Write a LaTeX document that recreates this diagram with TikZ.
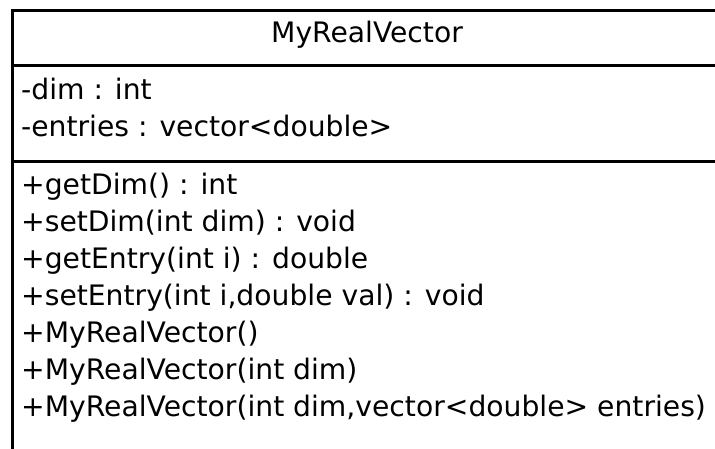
\documentclass[tikz,border=0pt]{standalone}
\usepackage{fontspec}
\setmainfont{DejaVu Sans}
\tikzset{
  classline/.style={line width=3pt},
  member/.style={anchor=base west,inner sep=0pt,font=\fontsize{28.2}{28.2}\selectfont},
  classname/.style={member,anchor=base}
}
\begin{document}
\begin{tikzpicture}[x=1pt,y=1pt]
\useasboundingbox (0,0) rectangle (715,448);
\clip (0,0) rectangle (715,448);
% class box, cut off on the right and at the bottom
\draw[classline] (12,-20) -- (12,437) -- (730,437);
\draw[classline] (12,382) -- (730,382);
\draw[classline] (12,286) -- (730,286);

\node[classname] (title) at (367,405) {MyRealVector};

% attributes
\node[member] (dim) at (21,348) {-dim : int};
\node[member] (entries) at (21,311) {-entries : vector<double>};

% methods
\node[member] (getdim) at (21,254) {+getDim() : int};
\node[member] (setdim) at (21,217) {+setDim(int dim) : void};
\node[member] (getentry) at (21,180) {+getEntry(int i) : double};
\node[member] (setentry) at (21,143) {+setEntry(int i,double val) : void};
\node[member] (ctora) at (21,106) {+MyRealVector()};
\node[member] (ctorb) at (21,69) {+MyRealVector(int dim)};
\node[member] (ctorc) at (21,32) {+MyRealVector(int dim,vector<double> entries)};
\end{tikzpicture}
\end{document}
